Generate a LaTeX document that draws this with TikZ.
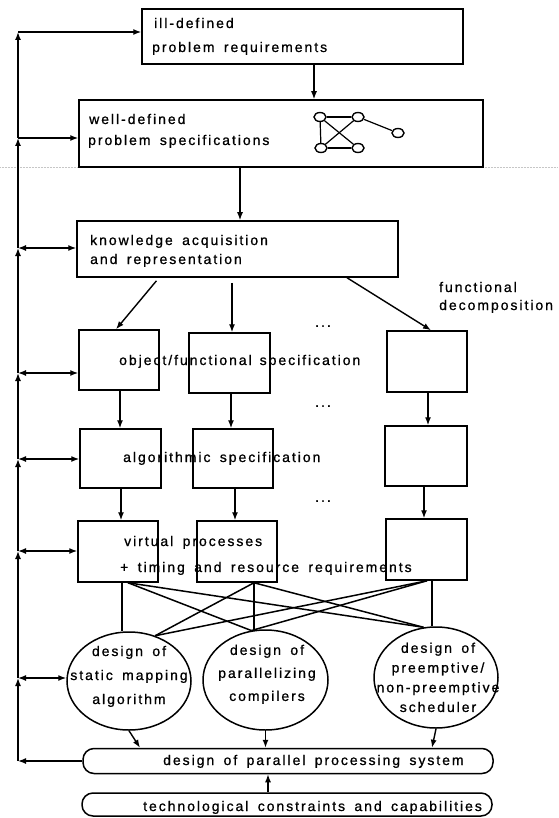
\documentclass[tikz,border=0pt]{standalone}
\usepackage{fontspec}
\setmainfont{Liberation Sans}[LetterSpace=14,WordSpace=1.6,FakeBold=0.9]
\usetikzlibrary{arrows.meta,shapes.geometric}
\begin{document}
\begin{tikzpicture}[x=1pt,y=-1pt,
  every node/.style={font=\fontsize{14pt}{17pt}\selectfont},
  box/.style={draw, rectangle, line width=1.5pt, inner sep=0pt},
  ell/.style={draw, ellipse, line width=1.5pt, inner sep=0pt},
  rbox/.style={draw, rectangle, rounded corners=11pt, line width=1.5pt, inner sep=0pt},
  gnode/.style={draw, ellipse, line width=1.4pt, inner sep=0pt, minimum width=12pt, minimum height=9pt},
  arr/.style={-{Latex[length=8pt,width=6pt]}, line width=1.4pt},
  darr/.style={{Latex[length=8pt,width=6pt]}-{Latex[length=8pt,width=6pt]}, line width=1.4pt},
  link/.style={line width=1.5pt},
  glink/.style={line width=1.2pt},
  lbl/.style={anchor=base west, inner sep=0pt},
  etxt/.style={align=center, inner sep=0pt}]
\useasboundingbox (0,0) rectangle (558,818);
% faint fold line of the scan
\coordinate (fl) at (0,167);
\coordinate (fr) at (558,167);
\draw[gray!45, line width=0.5pt, densely dotted] (fl) -- (fr);

% boxes
\node[box, minimum width=321pt, minimum height=55pt] (b1) at (302.5,36.5) {};
\node[box, minimum width=404pt, minimum height=67pt] (b2) at (281,133.5) {};
\node[box, minimum width=321pt, minimum height=56pt] (b3) at (237.5,249) {};
\node[box, minimum width=80pt, minimum height=60pt] (c11) at (119,360) {};
\node[box, minimum width=81pt, minimum height=60pt] (c12) at (229.5,363) {};
\node[box, minimum width=80pt, minimum height=61pt] (c13) at (427,361.5) {};
\node[box, minimum width=81pt, minimum height=59pt] (c21) at (120.5,458.5) {};
\node[box, minimum width=80pt, minimum height=59pt] (c22) at (233,458.5) {};
\node[box, minimum width=82pt, minimum height=60pt] (c23) at (426,456) {};
\node[box, minimum width=80pt, minimum height=61pt] (c31) at (118,551.5) {};
\node[box, minimum width=80pt, minimum height=61pt] (c32) at (237,551.5) {};
\node[box, minimum width=81pt, minimum height=61pt] (c33) at (426.5,549.5) {};
\node[ell, minimum width=124pt, minimum height=98pt] (e1) at (129,681) {};
\node[ell, minimum width=125pt, minimum height=100pt] (e2) at (265.5,680) {};
\node[ell, minimum width=124pt, minimum height=101pt] (e3) at (436,677.5) {};
\node[rbox, minimum width=410pt, minimum height=25pt] (r1) at (288,761) {};
\node[rbox, minimum width=410pt, minimum height=23pt] (r2) at (287,804.5) {};

% small graph in box 2
\node[gnode] (g1) at (320,117) {};
\node[gnode] (g2) at (358,117) {};
\node[gnode] (g3) at (398,133) {};
\node[gnode] (g4) at (321,148) {};
\node[gnode] (g5) at (358,148) {};
\draw[glink] (g1) -- (g2);
\draw[glink] (g1) -- (g4);
\draw[glink] (g1) -- (g5);
\draw[glink] (g2) -- (g4);
\draw[glink] (g4) -- (g5);
\draw[glink] (g2) -- (g3);

% texts
\node[lbl] (t1a) at (154,28) {ill-defined};
\node[lbl] (t1b) at (152,52) {problem requirements};
\node[lbl] (t2a) at (89,124) {well-defined};
\node[lbl] (t2b) at (88,145) {problem specifications};
\node[lbl] (t3a) at (90,245) {knowledge acquisition};
\node[lbl] (t3b) at (90,264) {and representation};
\node[lbl] (tobj) at (119,365) {object/functional\hspace{8pt}specification};
\node[lbl] (tfd1) at (439,292) {functional};
\node[lbl] (tfd2) at (439,310) {decomposition};
\node[lbl] (talg) at (123,462) {algorithmic specification};
\node[lbl] (tvp1) at (124,546) {virtual processes};
\node[lbl] (tvp2) at (120,572) {+ timing and resource requirements};
\node[inner sep=0pt] (d1) at (323,326) {...};
\node[inner sep=0pt] (d2) at (323,406) {...};
\node[inner sep=0pt] (d3) at (323,501) {...};
\node[etxt, font=\fontsize{14pt}{24pt}\selectfont] (te1) at (129,676.4) {design of\\static mapping\\algorithm};
\node[etxt, font=\fontsize{14pt}{23pt}\selectfont] (te2) at (267,674.3) {design of\\parallelizing\\compilers};
\node[etxt, font=\fontsize{14pt}{19.7pt}\selectfont] (te3) at (438,677.4) {design of\\preemptive/\\non-preemptive\\scheduler};
\node[lbl] (tr1) at (163,765) {design of parallel processing system};
\node[lbl] (tr2) at (143,811) {technological constraints and capabilities};

% main flow arrows
\coordinate (a12) at (314,0);
\coordinate (a23) at (240,0);
\draw[arr] (b1.south -| a12) -- (b2.north -| a12);
\draw[arr] (b2.south -| a23) -- (b3.north -| a23);
\coordinate (k1) at (159,0);
\coordinate (k2) at (116,0);
\coordinate (k3) at (232,0);
\coordinate (k4) at (347,0);
\coordinate (k5) at (431,0);
\draw[arr, shorten <=4pt] (b3.south -| k1) -- (c11.north -| k2);
\draw[arr, shorten <=5pt] (b3.south -| k3) -- (c12.north -| k3);
\draw[arr] (b3.south -| k4) -- (c13.north -| k5);
\coordinate (m1) at (120,0);
\coordinate (m2) at (231,0);
\coordinate (m3) at (428,0);
\coordinate (m4) at (121,0);
\coordinate (m5) at (235,0);
\coordinate (m6) at (424,0);
\draw[arr] (c11.south -| m1) -- (c21.north -| m1);
\draw[arr] (c12.south -| m2) -- (c22.north -| m2);
\draw[arr] (c13.south -| m3) -- (c23.north -| m3);
\draw[arr] (c21.south -| m4) -- (c31.north -| m4);
\draw[arr] (c22.south -| m5) -- (c32.north -| m5);
\draw[arr] (c23.south -| m6) -- (c33.north -| m6);

% virtual processes to design ellipses
\coordinate (v1) at (122,0);
\coordinate (v2) at (254,0);
\coordinate (v3) at (432,0);
\coordinate (w1) at (128,0);
\coordinate (w3) at (427,0);
\draw[link] (c31.south -| v1) -- (v1 |- e1.north);
\draw[link] (c32.south -| v2) -- (v2 |- e2.north);
\draw[link] (c33.south -| v3) -- (v3 |- e3.north);
\draw[link] (c31.south -| w1) -- (e2.106);
\draw[link] (c31.south -| w1) -- (e3.104);
\draw[link] (c32.south -| v2) -- (e1.60);
\draw[link] (c32.south -| v2) -- (e3.104);
\draw[link] (c33.south -| w3) -- (e1.60);
\draw[link] (c33.south -| w3) -- (e2.106);

% ellipses to system design
\coordinate (z1) at (140,0);
\coordinate (z3) at (432,0);
\coordinate (z4) at (268,0);
\draw[arr] (e1.south) -- (r1.north -| z1);
\draw[arr] (e2.south) -- (r1.north -| e2.south);
\draw[arr] (e3.south) -- (r1.north -| z3);
\draw[arr] (r2.north -| z4) -- (r1.south -| z4);

% feedback line
\coordinate (f1) at (18,32);
\coordinate (f2) at (18,138);
\coordinate (f3) at (18,248);
\coordinate (f4) at (18,373);
\coordinate (f5) at (18,459);
\coordinate (f6) at (18,551);
\coordinate (f7) at (18,678);
\coordinate (f8) at (r1.west -| f1);
\draw[arr] (r1.west) -- (f8);
\draw[arr] (f8) -- (f7);
\draw[arr] (f7) -- (f6);
\draw[arr] (f6) -- (f5);
\draw[arr] (f5) -- (f4);
\draw[arr] (f4) -- (f3);
\draw[arr] (f3) -- (f2);
\draw[arr] (f2) -- (f1);
\draw[arr] (f1) -- (b1.west |- f1);
\draw[arr] (f2) -- (b2.west |- f2);
\draw[darr] (f3) -- (b3.west |- f3);
\draw[darr] (f4) -- (c11.west |- f4);
\draw[darr] (f5) -- (c21.west |- f5);
\draw[darr] (f6) -- (c31.west |- f6);
\draw[darr] (f7) -- (e1.west |- f7);
\end{tikzpicture}
\end{document}
